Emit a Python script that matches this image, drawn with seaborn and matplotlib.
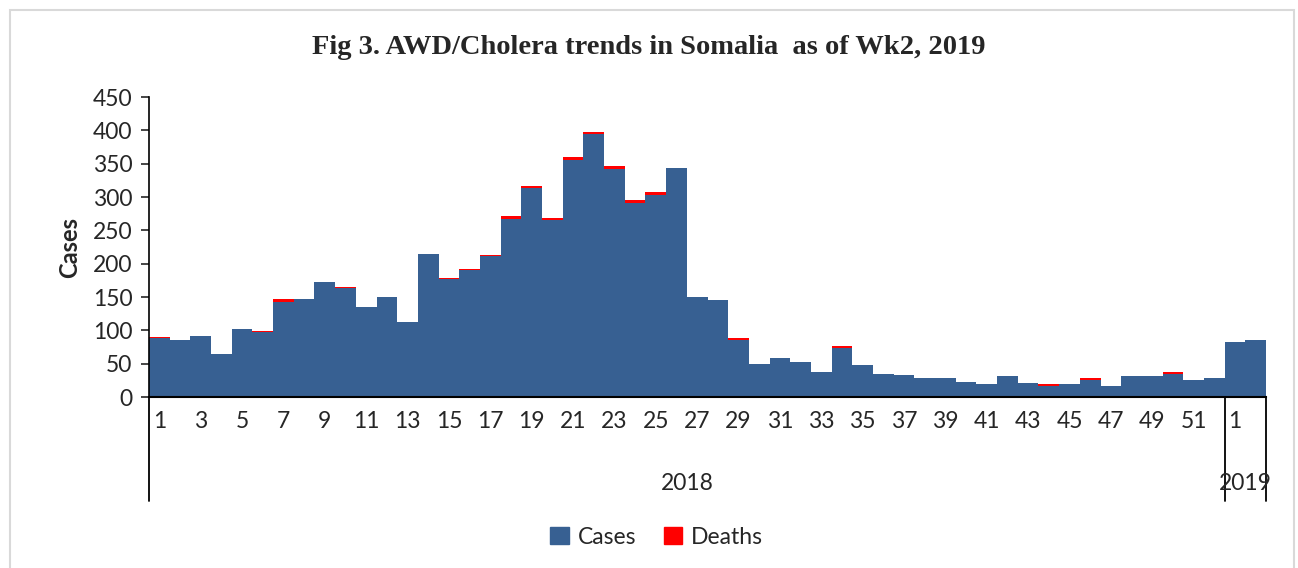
import pandas as pd
import matplotlib.pyplot as plt
import seaborn as sns
from matplotlib.patches import Patch, Rectangle

# Weekly AWD/Cholera data, 2018 wk1-52 then 2019 wk1-2
weeks = list(range(1, 53)) + [1, 2]
years = ["2018"] * 52 + ["2019"] * 2
cases = [89, 85, 92, 65, 102, 98, 143, 147, 173, 164,
         135, 150, 112, 214, 177, 191, 212, 267, 313, 266,
         356, 395, 342, 291, 303, 343, 150, 146, 86, 50,
         59, 52, 38, 74, 48, 35, 33, 29, 28, 23,
         19, 31, 21, 17, 20, 26, 17, 31, 31, 35,
         26, 29, 82, 86]
deaths = [1, 0, 0, 0, 0, 1, 4, 0, 0, 1,
          0, 0, 0, 0, 1, 1, 1, 4, 4, 2,
          4, 2, 4, 5, 4, 1, 0, 0, 2, 0,
          0, 0, 0, 2, 0, 0, 0, 0, 0, 0,
          0, 0, 0, 2, 0, 2, 0, 0, 0, 2,
          0, 0, 0, 0]

df = pd.DataFrame({"pos": range(len(weeks)), "week": weeks, "year": years,
                   "Cases": cases, "Deaths": deaths})
df["Total"] = df["Cases"] + df["Deaths"]

blue = "#376092"
red = "#FF0000"

sns.set_style("white")
plt.rcParams["font.family"] = ["Lato", "DejaVu Sans"]

fig = plt.figure(figsize=(12.98, 5.68), dpi=100)
ax = fig.add_axes([149 / 1298, 1 - 397 / 568, 1117 / 1298, 300 / 568])

# stacked look: total in red, cases in blue over it
sns.barplot(data=df, x="pos", y="Total", color=red, width=1.0, saturation=1,
            edgecolor="none", ax=ax)
sns.barplot(data=df, x="pos", y="Cases", color=blue, width=1.0, saturation=1,
            edgecolor="none", ax=ax)

ax.set_xlim(-0.5, len(weeks) - 0.5)
ax.set_ylim(0, 450)
ax.set_yticks(range(0, 451, 50))
ax.tick_params(axis="y", labelsize=16.5, length=6, width=1.2, direction="out",
               left=True, pad=6)
ax.set_ylabel("Cases", fontsize=17, fontweight="bold", labelpad=8)
ax.set_xlabel("")

# week labels, every other week
ax.set_xticks(df["pos"][::2])
ax.set_xticklabels(df["week"][::2], fontsize=16.5)
ax.tick_params(axis="x", length=0, pad=10)

for s in ["top", "right"]:
    ax.spines[s].set_visible(False)
ax.spines["left"].set_linewidth(1.2)
ax.spines["bottom"].set_linewidth(1.5)
ax.spines["left"].set_color("black")
ax.spines["bottom"].set_color("black")

# year grouping below the week labels
trans = ax.get_xaxis_transform()
for xb in [-0.5, 51.5, 53.5]:
    ax.plot([xb, xb], [0, -0.345], color="black", lw=1.3, transform=trans,
            clip_on=False)
for yr, grp in df.groupby("year"):
    xc = (grp["pos"].min() + grp["pos"].max()) / 2
    ax.text(xc, -0.29, yr, transform=trans, ha="center", va="center",
            fontsize=16.5)

fig.text(0.5, 1 - 48 / 568, "Fig 3. AWD/Cholera trends in Somalia  as of Wk2, 2019",
         ha="center", va="center", fontsize=20.5, fontweight="bold",
         family="Liberation Serif")

handles = [Patch(color=blue, label="Cases"), Patch(color=red, label="Deaths")]
fig.legend(handles=handles, loc="center", bbox_to_anchor=(0.506, 1 - 537 / 568),
           ncol=2, frameon=False, fontsize=16.5, handlelength=0.8,
           handleheight=0.8, handletextpad=0.4, columnspacing=1.2)

# outer chart border
fig.patches.append(Rectangle((10 / 1298, -0.05), 1284 / 1298, 1.05 - 10 / 568,
                             transform=fig.transFigure, fill=False,
                             edgecolor="#d9d9d9", lw=1.5))

fig.savefig("out.png", dpi=100)
